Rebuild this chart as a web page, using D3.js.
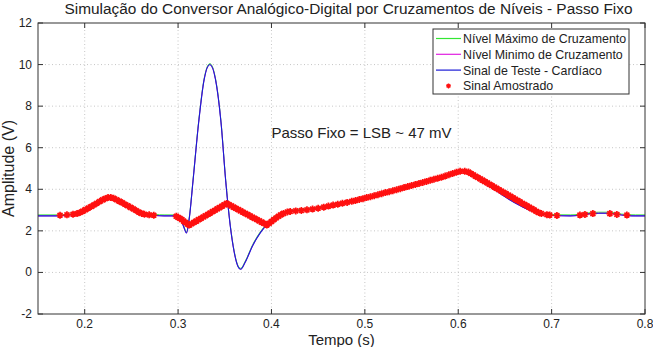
<!DOCTYPE html>
<html>
<head>
<meta charset="utf-8">
<script src="https://cdn.jsdelivr.net/npm/d3@7"></script>
<style>
  html, body { margin: 0; padding: 0; background: #fff; }
  svg { display: block; font-family: "Liberation Sans", Arial, sans-serif; }
</style>
</head>
<body>
<svg id="chart" width="653" height="347"></svg>
<script>
// ---------------- data ----------------
const titleText = "Simulação do Conversor Analógico-Digital por Cruzamentos de Níveis - Passo Fixo";
const xLabel = "Tempo (s)";
const yLabel = "Amplitude (V)";
const annotation = "Passo Fixo = LSB ~ 47 mV";
const legendLabels = ["Nível Máximo de Cruzamento", "Nível Minimo de Cruzamento", "Sinal de Teste - Cardíaco", "Sinal Amostrado"];
const xTicks = [0.2, 0.3, 0.4, 0.5, 0.6, 0.7, 0.8];
const yTicks = [-2, 0, 2, 4, 6, 8, 10, 12];
const xDomain = [0.15, 0.8];
const yDomain = [-2, 12];
const LSB = 0.047;

// test signal (cardiac) – time (s) and amplitude (V)
const sigT = [0.15, 0.17, 0.18, 0.19, 0.195, 0.21, 0.22, 0.225, 0.23, 0.24, 0.25, 0.26, 0.265, 0.275, 0.285,
  0.298, 0.303, 0.306, 0.309, 0.312, 0.316, 0.322, 0.328, 0.334, 0.34, 0.346, 0.351, 0.356, 0.36, 0.364, 0.367,
  0.372, 0.38, 0.388, 0.395, 0.40, 0.41, 0.417, 0.43, 0.45, 0.47, 0.49, 0.51, 0.53, 0.55, 0.57, 0.59, 0.602, 0.608,
  0.615, 0.625, 0.635, 0.645, 0.655, 0.666, 0.677, 0.688, 0.70, 0.72, 0.728, 0.735, 0.742, 0.75, 0.76, 0.768, 0.775,
  0.782, 0.79, 0.8];
const sigV = [2.72, 2.72, 2.74, 2.82, 2.88, 3.25, 3.53, 3.60, 3.58, 3.36, 3.10, 2.86, 2.79, 2.74, 2.72,
  2.72, 2.55, 2.2, 1.9, 2.6, 4.4, 7.2, 9.3, 10.0, 9.3, 7.2, 4.4, 2.2, 1.0, 0.3, 0.15,
  0.5, 1.3, 1.9, 2.3, 2.55, 2.8, 2.91, 2.99, 3.09, 3.28, 3.46, 3.69, 3.93, 4.18, 4.43, 4.70, 4.87, 4.87,
  4.72, 4.40, 4.08, 3.80, 3.50, 3.22, 2.98, 2.82, 2.74, 2.72, 2.74, 2.79, 2.83, 2.85, 2.85, 2.81, 2.76,
  2.73, 2.72, 2.72];

// sampled signal (level crossings)
const sampT = [0.1736, 0.181, 0.1875, 0.1918,
  0.195, 0.198, 0.201, 0.204, 0.207, 0.210, 0.213, 0.216, 0.219, 0.222, 0.225, 0.228, 0.231, 0.234, 0.237,
  0.240, 0.243, 0.246, 0.249, 0.252, 0.255, 0.258, 0.261, 0.264, 0.269, 0.274,
  0.298, 0.300, 0.302, 0.304, 0.306, 0.308, 0.310, 0.312,
  0.3145, 0.317, 0.3195, 0.322, 0.3245, 0.327, 0.3295, 0.332, 0.3345, 0.337, 0.3395, 0.342, 0.3445, 0.347, 0.3495, 0.352,
  0.3545, 0.357, 0.3595, 0.362, 0.3645, 0.367, 0.3695, 0.372, 0.3745, 0.377, 0.3795, 0.382, 0.3845, 0.387, 0.3895, 0.392, 0.395,
  0.3975, 0.400, 0.4025, 0.405, 0.4075, 0.410, 0.413, 0.417,
  0.420, 0.426, 0.432, 0.438, 0.444, 0.450, 0.456, 0.461, 0.466, 0.471, 0.476, 0.481, 0.486, 0.490, 0.494, 0.498,
  0.502, 0.506, 0.510, 0.514, 0.518, 0.522, 0.526, 0.530, 0.534, 0.538, 0.542, 0.546, 0.550, 0.554, 0.558, 0.562,
  0.566, 0.570, 0.574, 0.578, 0.582, 0.586, 0.590, 0.594, 0.598, 0.602, 0.607, 0.611,
  0.6135, 0.616, 0.6185, 0.621, 0.6235, 0.626, 0.6285, 0.631, 0.6335, 0.636, 0.6385, 0.641, 0.6435, 0.646, 0.6485,
  0.651, 0.6535, 0.656, 0.6585, 0.661, 0.6635, 0.666, 0.6685, 0.671, 0.6735, 0.676, 0.6785, 0.681, 0.6835, 0.686, 0.689,
  0.695, 0.698, 0.7057,
  0.7303, 0.7357, 0.7442, 0.7624, 0.7699, 0.7806];
const sampV = [2.75, 2.77, 2.80, 2.83,
  2.88, 2.95, 3.02, 3.10, 3.17, 3.25, 3.33, 3.41, 3.49, 3.55, 3.60, 3.60, 3.57, 3.50, 3.43,
  3.36, 3.28, 3.21, 3.13, 3.06, 2.98, 2.90, 2.84, 2.80, 2.77, 2.75,
  2.70, 2.65, 2.60, 2.54, 2.47, 2.40, 2.33, 2.28,
  2.34, 2.41, 2.47, 2.54, 2.60, 2.67, 2.73, 2.80, 2.86, 2.93, 2.99, 3.06, 3.12, 3.19, 3.25, 3.32,
  3.26, 3.20, 3.14, 3.08, 3.02, 2.96, 2.90, 2.84, 2.78, 2.72, 2.66, 2.60, 2.54, 2.48, 2.42, 2.36, 2.28,
  2.36, 2.45, 2.54, 2.62, 2.70, 2.77, 2.84, 2.91,
  2.93, 2.96, 2.98, 3.01, 3.05, 3.09, 3.14, 3.19, 3.24, 3.28, 3.33, 3.37, 3.42, 3.46, 3.51, 3.55,
  3.60, 3.64, 3.69, 3.74, 3.79, 3.84, 3.88, 3.93, 3.98, 4.03, 4.08, 4.13, 4.18, 4.23, 4.28, 4.33,
  4.38, 4.43, 4.48, 4.53, 4.58, 4.64, 4.70, 4.76, 4.82, 4.87, 4.87, 4.83,
  4.76, 4.70, 4.63, 4.57, 4.50, 4.44, 4.37, 4.31, 4.24, 4.18, 4.11, 4.05, 3.98, 3.92, 3.85,
  3.79, 3.72, 3.66, 3.59, 3.53, 3.46, 3.40, 3.33, 3.27, 3.20, 3.14, 3.07, 3.01, 2.94, 2.88, 2.83,
  2.78, 2.76, 2.74,
  2.76, 2.79, 2.83, 2.83, 2.79, 2.76];

// ---------------- layout ----------------
const W = 653, H = 347;
const m = { left: 38, right: 8, top: 23, bottom: 33 };
const svg = d3.select("#chart");
const x = d3.scaleLinear().domain(xDomain).range([m.left, W - m.right]);
const y = d3.scaleLinear().domain(yDomain).range([H - m.bottom, m.top]);

svg.append("defs").append("clipPath").attr("id", "clip")
  .append("rect").attr("x", m.left).attr("y", m.top)
  .attr("width", W - m.left - m.right).attr("height", H - m.top - m.bottom);

// grid
const grid = svg.append("g").attr("stroke", "#b8b8b8").attr("stroke-width", 0.8).attr("stroke-dasharray", "1,2.5");
grid.selectAll("line.gx").data(xTicks.filter(d => d > xDomain[0] && d < xDomain[1])).join("line")
  .attr("x1", d => x(d)).attr("x2", d => x(d)).attr("y1", m.top).attr("y2", H - m.bottom);
grid.selectAll("line.gy").data(yTicks.filter(d => d > yDomain[0] && d < yDomain[1])).join("line")
  .attr("y1", d => y(d)).attr("y2", d => y(d)).attr("x1", m.left).attr("x2", W - m.right);

// series
const sig = sigT.map((t, i) => ({ t, v: sigV[i] }));
const samp = sampT.map((t, i) => ({ t, v: sampV[i] }));
const plot = svg.append("g").attr("clip-path", "url(#clip)");

const lineOff = off => d3.line().x(d => x(d.t)).y(d => y(d.v + off)).curve(d3.curveMonotoneX);

plot.append("path").datum(sig).attr("d", lineOff(LSB)).attr("fill", "none").attr("stroke", "#33e633").attr("stroke-width", 1);
plot.append("path").datum(sig).attr("d", lineOff(0)).attr("fill", "none").attr("stroke", "#e020e0").attr("stroke-width", 1);
plot.append("path").datum(sig).attr("d", lineOff(0)).attr("fill", "none").attr("stroke", "#1a1ad6").attr("stroke-width", 1.1);

const star = r => `M${-r},0L${r},0M0,${-r}L0,${r}M${-r*0.7},${-r*0.7}L${r*0.7},${r*0.7}M${-r*0.7},${r*0.7}L${r*0.7},${-r*0.7}`;
plot.selectAll("path.s").data(samp).join("path")
  .attr("transform", d => `translate(${x(d.t)},${y(d.v)})`)
  .attr("d", star(3.5)).attr("stroke", "#ff1010").attr("stroke-width", 1.7).attr("fill", "none");

// axes box & ticks
const axG = svg.append("g").attr("stroke", "#333").attr("stroke-width", 1);
axG.append("rect").attr("x", m.left).attr("y", m.top).attr("width", W - m.left - m.right).attr("height", H - m.top - m.bottom).attr("fill", "none");
const tl = 5;
xTicks.forEach(d => {
  axG.append("line").attr("x1", x(d)).attr("x2", x(d)).attr("y1", H - m.bottom).attr("y2", H - m.bottom - tl);
  axG.append("line").attr("x1", x(d)).attr("x2", x(d)).attr("y1", m.top).attr("y2", m.top + tl);
});
yTicks.forEach(d => {
  axG.append("line").attr("y1", y(d)).attr("y2", y(d)).attr("x1", m.left).attr("x2", m.left + tl);
  axG.append("line").attr("y1", y(d)).attr("y2", y(d)).attr("x1", W - m.right).attr("x2", W - m.right - tl);
});

// tick labels
svg.append("g").selectAll("text").data(xTicks).join("text")
  .attr("x", d => x(d)).attr("y", H - m.bottom + 14).attr("text-anchor", "middle")
  .attr("font-size", 12).attr("fill", "#222").text(d => d3.format(".1f")(d));
svg.append("g").selectAll("text").data(yTicks).join("text")
  .attr("x", m.left - 6).attr("y", d => y(d) + 4).attr("text-anchor", "end")
  .attr("font-size", 12).attr("fill", "#222").text(d => d);

// labels
svg.append("text").attr("x", (m.left + W - m.right) / 2 + 7).attr("y", 14).attr("text-anchor", "middle")
  .attr("font-size", 15.4).attr("fill", "#222").text(titleText);
svg.append("text").attr("x", (m.left + W - m.right) / 2).attr("y", H - 2).attr("text-anchor", "middle")
  .attr("font-size", 15).attr("fill", "#222").text(xLabel);
svg.append("text").attr("transform", `translate(14,${(m.top + H - m.bottom) / 2}) rotate(-90)`)
  .attr("text-anchor", "middle").attr("font-size", 16).attr("fill", "#222").text(yLabel);
svg.append("text").attr("x", x(0.4)).attr("y", y(6.45)).attr("font-size", 15).attr("fill", "#222").text(annotation);

// legend
const lg = svg.append("g");
lg.append("rect").attr("x", 433).attr("y", 29).attr("width", 196).attr("height", 65)
  .attr("fill", "#fff").attr("stroke", "#333").attr("stroke-width", 1);
const legColors = ["#33e633", "#e020e0", "#1a1ad6", "#ff1010"];
legendLabels.forEach((lab, i) => {
  const cy = 38.5 + i * 15.8;
  if (i < 3) {
    lg.append("line").attr("x1", 436).attr("x2", 461).attr("y1", cy).attr("y2", cy)
      .attr("stroke", legColors[i]).attr("stroke-width", 1.2);
  } else {
    lg.append("path").attr("transform", `translate(448.5,${cy})`).attr("d", star(2.5))
      .attr("stroke", legColors[i]).attr("stroke-width", 1.3);
  }
  lg.append("text").attr("x", 463).attr("y", cy + 4.5).attr("font-size", 12.4).attr("fill", "#222").text(lab);
});
</script>
</body>
</html>
